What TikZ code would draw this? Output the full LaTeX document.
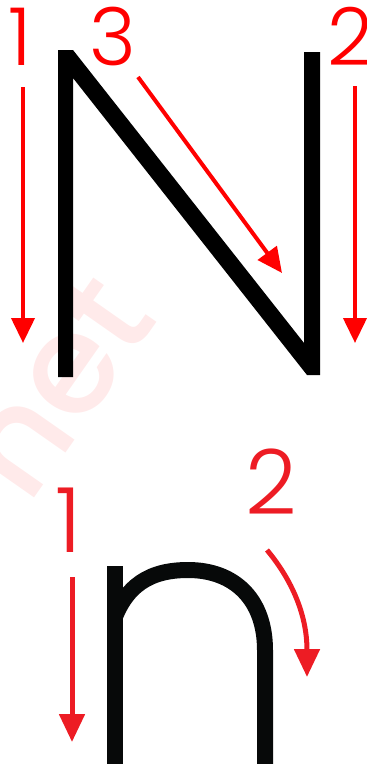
\documentclass[tikz,border=0pt]{standalone}
\usepackage{fontspec}
\newfontfamily\numfont{Poppins}[UprightFont=* Light]
\newfontfamily\wmfont{Poppins}[UprightFont=* Medium]
\usetikzlibrary{arrows.meta}
\definecolor{redA}{HTML}{FF0000}
\definecolor{redB}{HTML}{ED1C24}
\definecolor{wmpink}{HTML}{FFEAEA}
\definecolor{inkn}{HTML}{070909}
\tikzset{
  numtop/.style={text=redA, font=\numfont\fontsize{80}{80}\selectfont, inner sep=0pt, anchor=base},
  numbot/.style={text=redB, font=\numfont\fontsize{90}{90}\selectfont, inner sep=0pt, anchor=base},
  arrtop/.style={draw=redA, line width=4pt, -{Triangle[width=23pt,length=25pt]}},
  arrbot/.style={draw=redB, line width=5pt, -{Triangle[width=25pt,length=28pt]}},
}
\begin{document}
\begin{tikzpicture}[x=1pt,y=-1pt]
\useasboundingbox (0,0) rectangle (367,764);
% watermark
\node[text=wmpink, font=\wmfont\fontsize{140}{140}\selectfont, rotate=55, inner sep=0pt] (wm) at (55,385) {net};
% capital N
\fill[black] (58,50) -- (73,50) -- (304,343) -- (304,52) -- (320,52) -- (320,375)
  -- (307,375) -- (73,78) -- (73,377) -- (58,377) -- cycle;
% small n
\fill[inkn] (107,566) rectangle (123,764);
\begin{scope}
  \clip (107,540) rectangle (367,764);
  \draw[inkn, line width=16pt] (112,625) .. controls (125,585) and (150,570) .. (188,570)
    .. controls (235,570) and (265,600) .. (265,650) -- (265,764);
\end{scope}
% numbers
\node[numtop] (n1) at (20.5,65) {1};
\node[numtop] (n3) at (112.5,65) {3};
\node[numtop] (n2) at (350,65) {2};
\node[numbot] (m1) at (68.5,552) {1};
\node[numbot] (m2) at (271,514) {2};
% arrows
\coordinate (a1s) at (23,87);  \coordinate (a1e) at (23,343);
\coordinate (a2s) at (355,86); \coordinate (a2e) at (355,343);
\coordinate (a3s) at (138,77); \coordinate (a3e) at (282,273);
\coordinate (b1s) at (72,577); \coordinate (b1e) at (72,742);
\coordinate (b2s) at (267,550); \coordinate (b2e) at (307,677);
\draw[arrtop] (a1s) -- (a1e);
\draw[arrtop] (a2s) -- (a2e);
\draw[arrtop] (a3s) -- (a3e);
\draw[arrbot] (b1s) -- (b1e);
\draw[arrbot] (b2s) .. controls (292,580) and (307,615) .. (b2e);
\end{tikzpicture}
\end{document}
